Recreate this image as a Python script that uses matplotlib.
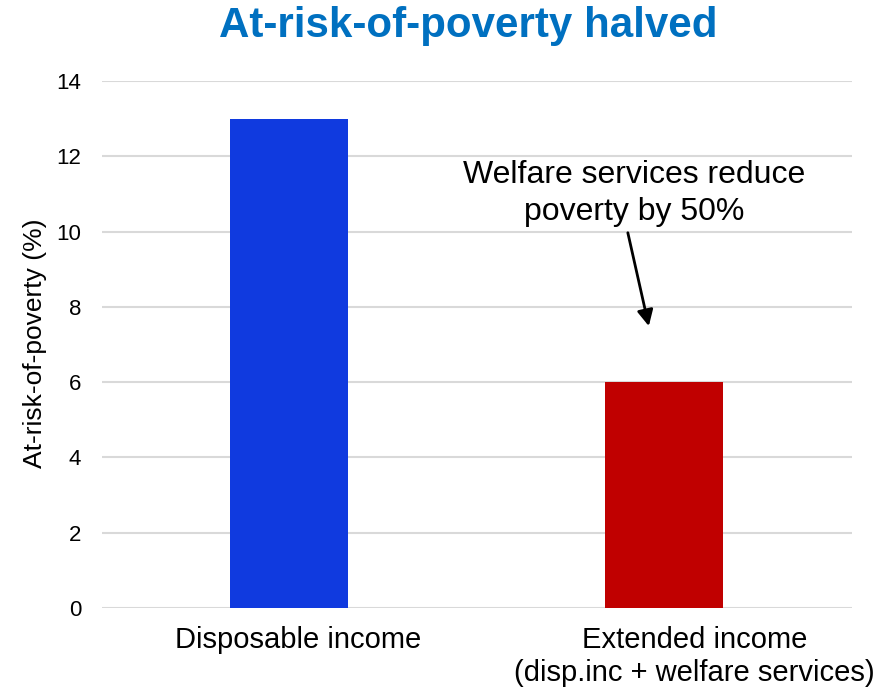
import matplotlib
matplotlib.use("Agg")
import matplotlib.pyplot as plt
from matplotlib.transforms import ScaledTranslation

categories = ["Disposable income", "Extended income\n(disp.inc + welfare services)"]
values = [13.0, 6.0]
bar_colors = ["#103ADF", "#C00000"]
yticks = [0, 2, 4, 6, 8, 10, 12, 14]

plt.rcParams['font.family'] = ['Liberation Sans', 'DejaVu Sans']

fig = plt.figure(figsize=(8.79, 6.87), dpi=100)
ax = fig.add_axes([0.116, 0.115, 0.853, 0.767])

x = list(range(len(categories)))
ax.bar(x, values, width=0.315, color=bar_colors, zorder=3)
ax.set_xlim(-0.5, 1.5)
ax.set_ylim(0, 14)
ax.set_yticks(yticks)
ax.set_yticklabels([str(t) for t in yticks], fontsize=16)
ax.set_xticks(x)
ax.set_xticklabels(categories, fontsize=21, va='top', linespacing=1.22)
ax.tick_params(axis='both', length=0)
ax.tick_params(axis='y', pad=15)
ax.tick_params(axis='x', pad=13)
ax.grid(axis='y', color='#d9d9d9', linewidth=1.5, zorder=0)
for s in ax.spines.values():
    s.set_visible(False)

# shift category labels horizontally as in the reference
offsets_px = [9, 30]
for lab, off in zip(ax.get_xticklabels(), offsets_px):
    lab.set_transform(lab.get_transform() + ScaledTranslation(off / 100.0, 0, fig.dpi_scale_trans))

ax.set_ylabel("At-risk-of-poverty (%)", fontsize=19)
ax.yaxis.label.set(ha='center', va='center', rotation_mode='default')
ax.yaxis.set_label_coords((35 - 102) / 750.0, (608 - 343) / 527.0)

# annotation arrow and text
ax.annotate("", xy=(0.9587, 7.49), xytext=(0.9027, 9.97),
            arrowprops=dict(arrowstyle='-|>', color='black', lw=2,
                            mutation_scale=24, shrinkA=0, shrinkB=0))
ax.text(0.9205, 10.31, "Welfare services reduce\npoverty by 50%",
        ha='center', va='baseline', fontsize=23, linespacing=1.32,
        multialignment='center')

fig.text(0.533, 1 - 37 / 687, "At-risk-of-poverty halved", ha='center', va='baseline',
         fontsize=30.3, fontweight='bold', color='#0070C0')

fig.savefig("out.png", dpi=100)
